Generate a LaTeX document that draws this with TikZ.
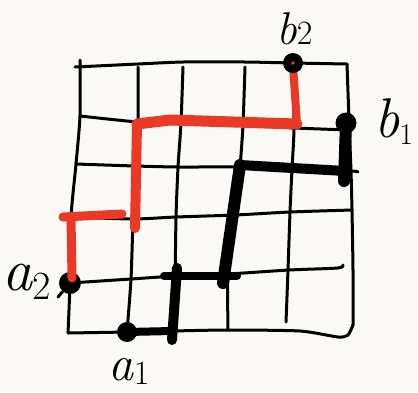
\documentclass[tikz,border=0pt]{standalone}
\definecolor{paper}{RGB}{250,249,245}
\definecolor{pen}{RGB}{234,57,36}
\newcommand{\handlab}[5]{\fontsize{#3}{#3}\selectfont\textit{#1}\raisebox{-#5}{\fontsize{#4}{#4}\selectfont #2}}
\tikzset{
  gridline/.style={line width=3pt, line cap=round, line join=round},
  blackpath/.style={line width=#1, line cap=round, line join=round},
  redpath/.style={pen, line width=#1, line cap=round, line join=round},
  dot/.style={circle, fill=black, inner sep=0pt, minimum size=#1},
  lab/.style={anchor=base west, inner sep=0pt}
}
\begin{document}
\begin{tikzpicture}[x=1pt,y=-1pt]
\fill[paper] (0,0) rectangle (418,392);
\useasboundingbox (0,0) rectangle (418,392);

% ---- grid: horizontal lines
\draw[gridline] plot[smooth,tension=0.4] coordinates {(75,67) (138,64) (183,62) (245,62) (293,63) (347,64)};
\draw[gridline] plot[smooth,tension=0.4] coordinates {(80,116) (138,122) (181,123) (243,125) (295,128) (349,130)};
\draw[gridline] plot[smooth,tension=0.4] coordinates {(76,164) (135,166) (178,167) (240,167) (292,169) (351,171) (358,172)};
\draw[gridline] plot[smooth,tension=0.4] coordinates {(71,217) (133,219) (176,217) (235,215) (290,212) (352,210)};
\draw[gridline] plot[smooth,tension=0.4] coordinates {(70,283) (131,279) (176,276) (228,274) (289,270) (338,268) (343,265)};
\draw[gridline] plot[smooth,tension=0.4] coordinates {(68,333) (127,332) (172,331) (228,330) (300,331) (338,337) (348,335) (353,325)};
% ---- grid: vertical lines
\draw[gridline] plot[smooth,tension=0.4] coordinates {(80,60) (80,116) (76,164) (71,217) (70,283) (68,333)};
\draw[gridline] plot[smooth,tension=0.4] coordinates {(138,67) (138,122) (135,166) (133,219) (131,279) (127,332)};
\draw[gridline] plot[smooth,tension=0.4] coordinates {(183,67) (181,123) (178,167) (176,217) (175,276) (172,331)};
\draw[gridline] plot[smooth,tension=0.4] coordinates {(245,67) (243,125) (240,167) (235,215) (228,274) (228,330)};
\draw[gridline] plot[smooth,tension=0.4] coordinates {(293,64) (294,128) (292,169) (290,212) (288,270) (286,322)};
\draw[gridline] plot[smooth,tension=0.4] coordinates {(347,64) (349,120) (351,171) (352,210) (353,270) (353,325)};

% ---- named points
\node[dot=20pt] (a1) at (127,332) {};
\coordinate (p1) at (172,331);
\coordinate (p2) at (177,268);
\coordinate (p3) at (226,276);
\coordinate (p4) at (240,165);
\coordinate (p5) at (345,171);
\coordinate (b1c) at (346,123);

% ---- black (thick) route a1 -> b1
\draw[blackpath=8pt] (a1.center) -- (p1);
\draw[blackpath=10pt] (172,340) -- (p2);
\draw[blackpath=8pt] (164,276) -- (p3) -- (237,276);
\draw[blackpath=12pt] (223,283) -- (p4);
\draw[blackpath=10pt] (p4) -- (p5);
\draw[blackpath=12pt] (p5) ++(-1,10) -- (b1c);

% ---- a2 dot (red drawn over it)
\node[dot=22pt] (a2) at (70,283) {};

% ---- red route a2 -> b2
\coordinate (r1) at (71,217);
\coordinate (r2) at (122,214);
\coordinate (r3) at (135,228);
\coordinate (r4) at (137,124);
\coordinate (r5) at (297,124);
\coordinate (r6) at (293,66);
\draw[redpath=9pt] (72,278) -- (r1);
\draw[redpath=9pt] (63,217) -- (r2);
\draw[redpath=10pt] (r3) -- (r4);
\draw[redpath=11pt] (r4) -- (170,120) -- (r5);
\draw[redpath=8pt] (r5) -- (r6);

\node[dot=20pt] (b2) at (293,63) {};
\fill[pen] (b2.center) circle (1.8pt);
\node[dot=21pt] (b1) at (b1c) {};

% ---- labels
\node[lab] (la2) at (2,290) {\handlab{a}{2}{60}{40}{9pt}};
\draw[gridline] (58,297) -- (a2);
\node[lab] (la1) at (108,380) {\handlab{a}{1}{50}{34}{4pt}};
\node[lab] (lb1) at (374,137) {\handlab{b}{1}{56}{30}{7pt}};
\node[lab] (lb2) at (276,44) {\handlab{b}{2}{46}{34}{0pt}};
\end{tikzpicture}
\end{document}
